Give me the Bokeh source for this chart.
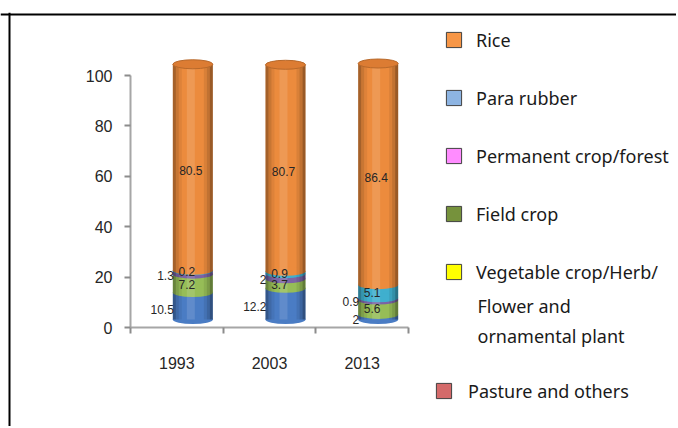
import numpy as np
from bokeh.plotting import figure
from bokeh.models import ColumnDataSource, Range1d, FixedTicker, Legend, LegendItem, Label, Span
from bokeh.transform import dodge
from bokeh.core.properties import value
from bokeh.embed import file_html
from bokeh.resources import INLINE

# ---------------- data ----------------
years = ["1993", "2003", "2013"]
para_rubber = [10.5, 12.2, 2.0]
field_crop = [7.2, 3.7, 5.6]
permanent_crop = [1.3, 2.0, 0.9]
pasture_others = [0.2, 0.9, 5.1]
rice = [80.5, 80.7, 86.4]
y_ticks = [0, 20, 40, 60, 80, 100]

legend_names = ["Rice", "Para rubber", "Permanent crop/forest", "Field crop", "Vegetable crop/Herb/"]
legend_last = "Pasture and others"
legend_extra_lines = ["Flower and", "ornamental plant"]

# ---------------- styles ----------------
legend_colors = ["#F79646", "#8DB4E2", "#FF8CFF", "#76923C", "#FFFF00"]
legend_last_color = "#D46A6A"

stack_names = ["para_rubber", "field_crop", "permanent_crop", "pasture_others", "rice"]
stack_values = [para_rubber, field_crop, permanent_crop, pasture_others, rice]
stack_colors = ["#4A7CC4", "#96BD57", "#7B63A6", "#3FAFCE", "#EC8B3D"]

n = len(years)
centers = np.arange(n) + 0.5
vals = np.array(stack_values, dtype=float)
tops = np.cumsum(vals, axis=0)
bottoms = tops - vals
mids = (tops + bottoms) / 2

data = {"x": centers, "total": tops[-1], "zero": np.zeros(n)}
for k, name in enumerate(stack_names):
    data[name + "_bot"] = bottoms[k]
    data[name + "_top"] = tops[k]
    data[name + "_mid"] = mids[k]
    data[name + "_txt"] = [f"{v:g}" for v in stack_values[k]]
src = ColumnDataSource(data)

# ---------------- geometry (pixels) ----------------
CW, CH = 676, 426          # canvas
TOP = 12                   # frame top
AX_X = 130                 # y axis position from canvas left
AX_Y = 327                 # x axis position from canvas top
PX_X = 92.67               # pixels per category
PX_Y = 2.52                # pixels per percent (axis)
BAR_Y = 319                # cylinder base (3-D lift)
PX_B = 2.56                # pixels per percent (cylinders, perspective)

x_rng = Range1d(-AX_X / PX_X, (CW - AX_X) / PX_X)
y_rng = Range1d(-(CH - AX_Y) / PX_Y, (AX_Y - TOP) / PX_Y)

p = figure(width=CW, height=CH, x_range=x_rng, y_range=y_rng,
           output_backend="svg", toolbar_location=None,
           min_border_left=0, min_border_right=0, min_border_top=TOP, min_border_bottom=0)
p.grid.visible = False
p.outline_line_color = None
p.background_fill_color = "white"
p.border_fill_color = "white"
p.extra_y_ranges = {"bars": Range1d(-(CH - BAR_Y) / PX_B, (BAR_Y - TOP) / PX_B)}

# frame border (left & top)
p.add_layout(Span(location=(9 - AX_X) / PX_X, dimension="height", line_color="black", line_width=2))
p.add_layout(Span(location=(AX_Y - 14) / PX_Y, dimension="width", line_color="black", line_width=2))

# x axis
xa = p.xaxis[0]
xa.fixed_location = 0
xa.ticker = FixedTicker(ticks=list(centers), minor_ticks=list(range(n + 1)))
xa.major_label_overrides = {float(c): y for c, y in zip(centers, years)}
xa.bounds = (0, n)
xa.major_tick_line_color = None
xa.major_tick_out = 0
xa.major_tick_in = 0
xa.minor_tick_out = 6
xa.minor_tick_in = 0
xa.minor_tick_line_color = "#8C8C8C"
xa.minor_tick_line_width = 2
xa.axis_line_color = "#A6A6A6"
xa.axis_line_width = 2
xa.major_label_text_font = "Liberation Sans"
xa.major_label_text_font_size = "16px"
xa.major_label_text_color = "#262626"
xa.major_label_standoff = 23

# y axis
ya = p.yaxis[0]
ya.fixed_location = 0
ya.ticker = FixedTicker(ticks=y_ticks)
ya.bounds = (0, 100)
ya.minor_tick_line_color = None
ya.major_tick_out = 6
ya.major_tick_in = 0
ya.major_tick_line_color = "#8C8C8C"
ya.major_tick_line_width = 2
ya.axis_line_color = "#A6A6A6"
ya.axis_line_width = 2
ya.major_label_text_font = "Liberation Sans"
ya.major_label_text_font_size = "16px"
ya.major_label_text_color = "#262626"
ya.major_label_standoff = 12

# cylinders
XOFF = 16 / PX_X
W = 40 / PX_X
EH = 9 / PX_B
for k, name in enumerate(stack_names):
    p.vbar(x=dodge("x", XOFF), bottom=name + "_bot", top=name + "_top", width=W, source=src,
           fill_color=stack_colors[k], line_color=None, y_range_name="bars")
    p.ellipse(x=dodge("x", XOFF), y=name + "_bot", width=W, height=EH, source=src,
              fill_color=stack_colors[k], line_color=None, y_range_name="bars")

# shading strips (pixel offset, pixel width, color, alpha)
strips = [(-18.5, 3, "black", 0.30), (-15.5, 3, "black", 0.15), (-12.5, 3, "black", 0.06),
          (18.5, 3, "black", 0.35), (15.5, 3, "black", 0.18), (12.5, 3, "black", 0.08),
          (-2, 8, "white", 0.12)]
for off, w, c, a in strips:
    p.vbar(x=dodge("x", XOFF + off / PX_X), bottom="zero", top="total", width=w / PX_X, source=src,
           fill_color=c, fill_alpha=a, line_color=None, y_range_name="bars")

# lid
p.ellipse(x=dodge("x", XOFF), y="total", width=W, height=EH, source=src,
          fill_color="#DC7C33", line_color="#B8692B", line_width=1, y_range_name="bars")

# value labels
TXT = dict(source=src, y_range_name="bars", text_font=value("Liberation Sans"),
           text_font_size="12px", text_color="#262626", text_baseline="middle")
p.text(x=dodge("x", XOFF - 2 / PX_X), y="rice_mid", text="rice_txt", text_align="center",
       y_offset=3, **TXT)
for name in ["para_rubber", "permanent_crop"]:
    p.text(x=dodge("x", XOFF - W / 2 + 1 / PX_X), y=name + "_mid", text=name + "_txt",
           text_align="right", y_offset=3, **TXT)
for name in ["field_crop", "pasture_others"]:
    p.text(x=dodge("x", XOFF - 6 / PX_X), y=name + "_mid", text=name + "_txt",
           text_align="center", y_offset=1, **TXT)

# legend (swatch renderers carry no visible data)
nan = [np.nan]
dummies = [p.quad(left=nan, right=nan, top=nan, bottom=nan, fill_color=c, line_color="#404040",
                  line_width=1) for c in legend_colors]
dummy_last = p.quad(left=nan, right=nan, top=nan, bottom=nan, fill_color=legend_last_color,
                    line_color="#404040", line_width=1)

LEG = dict(orientation="vertical", glyph_width=19, glyph_height=19, label_height=25,
           padding=0, margin=0, border_line_color=None, background_fill_alpha=0,
           label_text_font="Noto Sans", label_text_font_size="18px",
           label_text_color="#1a1a1a")
leg1 = Legend(items=[LegendItem(label=value(nm), renderers=[r]) for nm, r in zip(legend_names, dummies)],
              location=(444, 142), spacing=33, label_standoff=13, **LEG)
leg2 = Legend(items=[LegendItem(label=value(legend_last), renderers=[dummy_last])],
              location=(434, 23), label_standoff=15, **LEG)
p.add_layout(leg1)
p.add_layout(leg2)

for txt, yy in zip(legend_extra_lines, [121, 91]):
    p.add_layout(Label(x=477, y=yy, x_units="screen", y_units="screen", text=txt,
                       text_font="Noto Sans", text_font_size="18px", text_color="#1a1a1a",
                       text_baseline="middle"))

open("out.html", "w").write(file_html(p, INLINE))
